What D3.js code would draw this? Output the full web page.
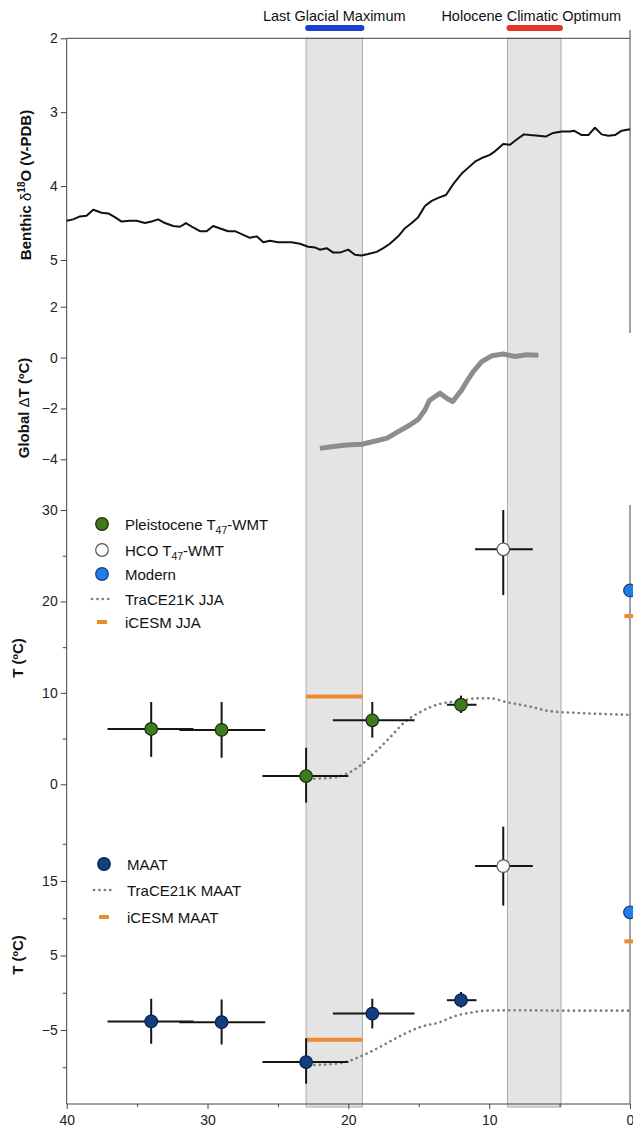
<!DOCTYPE html>
<html>
<head>
<meta charset="utf-8">
<script src="https://cdn.jsdelivr.net/npm/d3@7"></script>
<style>
body { margin: 0; background: #fff; }
svg { display: block; font-family: "Liberation Sans", Arial, Helvetica, sans-serif; }
.axis text { font-size: 14px; fill: #222; font-family: "Liberation Sans", Arial, sans-serif; }
.axis line { stroke: #444; }
.axis path { display: none; }
.legend text { font-size: 15px; fill: #111; }
.ytitle { font-size: 15px; font-weight: bold; fill: #111; }
</style>
</head>
<body>
<svg id="chart" width="633" height="1129"></svg>
<script>
// ages are ka BP
var benthicAge = [40.0, 39.54, 39.06, 38.59, 38.12, 37.52, 37.05, 36.58, 36.10, 35.51, 35.04, 34.45, 33.97, 33.50, 33.03,
    32.44, 31.96, 31.53, 31.02, 30.54, 30.06, 29.60, 29.00, 28.53, 28.05, 27.46, 26.99, 26.51, 26.04, 25.57, 24.98,
    24.03, 23.44, 22.85, 22.37, 22.02, 21.54, 21.07, 20.60, 20.01, 19.53, 19.06, 18.59, 17.99, 17.52, 17.05, 16.46,
    15.98, 15.50, 15.04, 14.56, 14.08, 13.62, 13.07, 12.50, 11.95, 11.48, 11.01, 10.53, 9.99, 9.59, 9.00, 8.52, 8.05,
    7.53, 7.10, 6.51, 5.99, 5.45, 4.85, 4.26, 3.98, 3.43, 2.96, 2.49, 2.01, 1.54, 1.07, 0.59, 0.0];
var benthicD18O = [4.47, 4.45, 4.41, 4.40, 4.32, 4.36, 4.37, 4.42, 4.48, 4.47, 4.47, 4.50, 4.48, 4.45, 4.50,
    4.54, 4.55, 4.50, 4.56, 4.61, 4.61, 4.54, 4.58, 4.61, 4.61, 4.66, 4.70, 4.68, 4.76, 4.74, 4.76,
    4.76, 4.78, 4.82, 4.83, 4.86, 4.84, 4.90, 4.90, 4.86, 4.93, 4.94, 4.92, 4.89, 4.84, 4.78, 4.68,
    4.57, 4.50, 4.42, 4.27, 4.20, 4.16, 4.12, 3.96, 3.83, 3.75, 3.67, 3.62, 3.58, 3.53, 3.43, 3.44, 3.37,
    3.30, 3.31, 3.32, 3.33, 3.28, 3.26, 3.26, 3.25, 3.31, 3.31, 3.21, 3.30, 3.32, 3.31, 3.25, 3.23];

var globalAge = [22.02, 21.07, 20.12, 19.06, 17.99, 17.24, 16.46, 15.63, 15.04, 14.56, 14.25, 13.49, 13.02, 12.59,
    11.95, 11.60, 11.13, 10.53, 9.82, 9.00, 8.17, 7.34, 6.51];
var globalDT = [-3.57, -3.50, -3.44, -3.41, -3.27, -3.17, -2.91, -2.65, -2.43, -2.06, -1.69, -1.40, -1.60, -1.73,
    -1.27, -0.95, -0.55, -0.16, 0.07, 0.14, 0.04, 0.11, 0.09];

var bandNames = ["Last Glacial Maximum", "Holocene Climatic Optimum"];
var bandStart = [23, 8.7];
var bandEnd = [19, 4.9];

// clumped isotope points: age, T, age range, T range
var wmtPleistocene = [
    {age: 34.0, t: 6.05, a0: 37.1, a1: 31.0, t0: 3.0, t1: 9.0},
    {age: 29.0, t: 5.95, a0: 32.0, a1: 25.9, t0: 2.9, t1: 9.0},
    {age: 23.0, t: 0.9, a0: 26.1, a1: 20.0, t0: -2.0, t1: 4.0},
    {age: 18.3, t: 7.0, a0: 21.1, a1: 15.3, t0: 5.1, t1: 9.0},
    {age: 12.0, t: 8.7, a0: 13.0, a1: 10.9, t0: 7.8, t1: 9.7}
];
var wmtHCO = [{age: 9.0, t: 25.7, a0: 11.0, a1: 6.9, t0: 20.7, t1: 30.0}];
var wmtModern = [{age: 0, t: 21.2}];
var iCESMjja = [{a0: 23, a1: 19, t: 9.6}, {a0: 0.4, a1: -0.4, t: 18.4}];
var traceJjaAge = [22.8, 21.3, 20.2, 19.2, 18.1, 17.0, 16.0, 14.9, 13.5, 12.1, 10.9, 9.9, 8.8, 7.1, 5.7, 3.6, 0];
var traceJjaT = [0.6, 0.7, 1.1, 2.0, 3.5, 5.2, 6.8, 7.9, 8.8, 9.1, 9.4, 9.4, 9.0, 8.5, 8.0, 7.8, 7.6];

var maatPleistocene = [
    {age: 34.0, t: -3.85, a0: 37.1, a1: 31.0, t0: -6.85, t1: -0.8},
    {age: 29.0, t: -3.95, a0: 32.0, a1: 25.9, t0: -6.95, t1: -0.9},
    {age: 23.0, t: -9.3, a0: 26.1, a1: 20.0, t0: -12.2, t1: -6.1},
    {age: 18.3, t: -2.8, a0: 21.1, a1: 15.3, t0: -4.8, t1: -0.8},
    {age: 12.0, t: -1.0, a0: 13.0, a1: 10.9, t0: -2.0, t1: 0.1}
];
var maatHCO = [{age: 9.0, t: 17.0, a0: 11.0, a1: 6.9, t0: 11.7, t1: 22.3}];
var maatModern = [{age: 0, t: 10.8}];
var iCESMmaat = [{a0: 23, a1: 19, t: -6.3}, {a0: 0.4, a1: -0.4, t: 6.9}];
var traceMaatAge = [22.8, 21.3, 20.2, 19.2, 18.1, 17.0, 16.0, 14.9, 13.5, 12.3, 11.4, 10.2, 7.9, 5.0, 2.1, 0];
var traceMaatT = [-9.7, -9.6, -9.3, -8.6, -7.6, -6.5, -5.5, -4.6, -3.95, -3.05, -2.7, -2.4, -2.35, -2.4, -2.4, -2.4];

var svg = d3.select("#chart");

var x = d3.scaleLinear().domain([40, 0]).range([66.7, 630]);
var yBen = d3.scaleLinear().domain([2, 5]).range([38.3, 260]);
var yGlob = d3.scaleLinear().domain([2, -4]).range([306.7, 459.3]);
var yJja = d3.scaleLinear().domain([30, 0]).range([510, 784.3]);
var yMaat = d3.scaleLinear().domain([15, -5]).range([881, 1030]);
var bottom = 1104;

// shaded intervals
var bands = bandNames.map(function(n, i) { return {name: n, start: bandStart[i], end: bandEnd[i]}; });
var bandColours = ["#1f3fd2", "#e6342b"];

svg.selectAll("rect.band")
    .data(bands)
    .enter().append("rect")
    .attr("class", "band")
    .attr("x", function(d) { return x(d.start); })
    .attr("width", function(d) { return x(d.end) - x(d.start); })
    .attr("y", 38.3)
    .attr("height", bottom + 3 - 38.3)
    .attr("fill", "#e4e4e4")
    .attr("stroke", "#ababab")
    .attr("stroke-width", 1);

svg.selectAll("line.bandbar")
    .data(bands)
    .enter().append("line")
    .attr("x1", function(d) { return x(d.start) + 2; })
    .attr("x2", function(d) { return x(d.end) - 1; })
    .attr("y1", 28).attr("y2", 28)
    .attr("stroke", function(d, i) { return bandColours[i]; })
    .attr("stroke-width", 6)
    .attr("stroke-linecap", "round");

svg.selectAll("text.bandlabel")
    .data(bands)
    .enter().append("text")
    .attr("x", function(d, i) { return (x(d.start) + x(d.end)) / 2 - (i == 1 ? 3 : 0); })
    .attr("y", 21)
    .attr("text-anchor", "middle")
    .style("font-size", "14.5px")
    .style("fill", "#111")
    .text(function(d) { return d.name; });

// axes frame
svg.append("line").attr("x1", 66.7).attr("x2", 66.7).attr("y1", 38.3).attr("y2", bottom).attr("stroke", "#444");
svg.append("line").attr("x1", 66.7).attr("x2", 630).attr("y1", 38.3).attr("y2", 38.3).attr("stroke", "#444");
svg.append("line").attr("x1", 630).attr("x2", 630).attr("y1", 30).attr("y2", 333).attr("stroke", "#444");
svg.append("line").attr("x1", 630).attr("x2", 630).attr("y1", 505).attr("y2", bottom).attr("stroke", "#444");
svg.append("line").attr("x1", 66.7).attr("x2", 630).attr("y1", bottom).attr("y2", bottom).attr("stroke", "#444");

function leftAxis(scale, major, minor, fmt) {
    var g = svg.append("g").attr("class", "axis").attr("transform", "translate(66.7,0)");
    g.call(d3.axisLeft(scale).tickValues(major).tickSize(6).tickPadding(3).tickFormat(fmt || d3.format("d")));
    if (minor) {
        svg.append("g").attr("class", "axis").attr("transform", "translate(66.7,0)")
            .call(d3.axisLeft(scale).tickValues(minor).tickSize(4).tickFormat(""));
    }
}
leftAxis(yBen, [2, 3, 4, 5]);
leftAxis(yGlob, [2, 0, -2, -4]);
leftAxis(yJja, [30, 20, 10, 0], [25, 15, 5]);
leftAxis(yMaat, [15, 5, -5], [20, 10, 0, -10]);

svg.append("g").attr("class", "axis").attr("transform", "translate(0," + bottom + ")")
    .call(d3.axisBottom(x).tickValues([40, 30, 20, 10, 0]).tickSize(5).tickPadding(6).tickFormat(d3.format("d")));
svg.append("g").attr("class", "axis").attr("transform", "translate(0," + bottom + ")")
    .call(d3.axisBottom(x).tickValues([35, 25, 15, 5]).tickSize(3).tickFormat(""));

// y titles
function yTitle(cx, cy, parts) {
    var t = svg.append("text").attr("class", "ytitle")
        .attr("transform", "translate(" + cx + "," + cy + ") rotate(-90)")
        .attr("text-anchor", "middle");
    parts.forEach(function(p) {
        var s = t.append("tspan").text(p.t);
        if (p.sup) s.attr("dy", -6).style("font-size", "10px");
        if (p.back) s.attr("dy", 6);
        if (p.normal) s.style("font-weight", "normal");
    });
}
yTitle(31, 185, [{t: "Benthic  "}, {t: "δ", normal: true}, {t: "18", sup: true}, {t: "O (V-PDB)", back: true}]);
yTitle(29, 408, [{t: "Global "}, {t: "Δ", normal: true}, {t: "T (ºC)"}]);
yTitle(23, 658, [{t: "T (ºC)"}]);
yTitle(23, 955, [{t: "T (ºC)"}]);

// benthic d18O
var benthic = benthicAge.map(function(a, i) { return [a, benthicD18O[i]]; });
svg.append("path")
    .datum(benthic)
    .attr("fill", "none")
    .attr("stroke", "#111")
    .attr("stroke-width", 2)
    .attr("stroke-linejoin", "round")
    .attr("d", d3.line().x(function(d) { return x(d[0]); }).y(function(d) { return yBen(d[1]); }));

// global temperature stack
var globalT = globalAge.map(function(a, i) { return [a, globalDT[i]]; });
svg.append("path")
    .datum(globalT)
    .attr("fill", "none")
    .attr("stroke", "#8d8d8d")
    .attr("stroke-width", 5)
    .attr("stroke-linejoin", "round")
    .attr("d", d3.line().x(function(d) { return x(d[0]); }).y(function(d) { return yGlob(d[1]); }));

function drawTrace(ages, temps, y) {
    var pts = ages.map(function(a, i) { return [a, temps[i]]; });
    svg.append("path")
        .datum(pts)
        .attr("fill", "none")
        .attr("stroke", "#7a7a7a")
        .attr("stroke-width", 2.6)
        .attr("stroke-linecap", "round")
        .attr("stroke-dasharray", "0.1 5.3")
        .attr("d", d3.line().curve(d3.curveMonotoneX).x(function(d) { return x(d[0]); }).y(function(d) { return y(d[1]); }));
}

function drawModel(data, y) {
    svg.selectAll(null)
        .data(data)
        .enter().append("line")
        .attr("x1", function(d) { return x(d.a0); })
        .attr("x2", function(d) { return x(d.a1); })
        .attr("y1", function(d) { return y(d.t); })
        .attr("y2", function(d) { return y(d.t); })
        .attr("stroke", "#ee8a2e")
        .attr("stroke-width", 4);
}

function drawPoints(data, y, fill, stroke) {
    var g = svg.append("g");
    var e = g.selectAll("g").data(data).enter().append("g");
    e.filter(function(d) { return d.a0 != null; }).append("line")
        .attr("x1", function(d) { return x(d.a0); })
        .attr("x2", function(d) { return x(d.a1); })
        .attr("y1", function(d) { return y(d.t); })
        .attr("y2", function(d) { return y(d.t); })
        .attr("stroke", "#151515").attr("stroke-width", 2);
    e.filter(function(d) { return d.t0 != null; }).append("line")
        .attr("x1", function(d) { return x(d.age); })
        .attr("x2", function(d) { return x(d.age); })
        .attr("y1", function(d) { return y(d.t0); })
        .attr("y2", function(d) { return y(d.t1); })
        .attr("stroke", "#151515").attr("stroke-width", 2);
    e.append("circle")
        .attr("cx", function(d) { return x(d.age); })
        .attr("cy", function(d) { return y(d.t); })
        .attr("r", 6.3)
        .attr("fill", fill)
        .attr("stroke", stroke)
        .attr("stroke-width", 1.2);
}

drawTrace(traceJjaAge, traceJjaT, yJja);
drawModel(iCESMjja, yJja);
drawPoints(wmtPleistocene, yJja, "#3e7b1d", "#1c2b10");
drawPoints(wmtHCO, yJja, "#ffffff", "#555");
drawPoints(wmtModern, yJja, "#1f7ce8", "#1b3f7a");

drawTrace(traceMaatAge, traceMaatT, yMaat);
drawModel(iCESMmaat, yMaat);
drawPoints(maatPleistocene, yMaat, "#123f82", "#0b1f40");
drawPoints(maatHCO, yMaat, "#ffffff", "#555");
drawPoints(maatModern, yMaat, "#1f7ce8", "#1b3f7a");

// legends
function legend(x0, rows) {
    var g = svg.append("g").attr("class", "legend");
    rows.forEach(function(r) {
        if (r.type == "circle") {
            g.append("circle").attr("cx", x0).attr("cy", r.y).attr("r", 6.3)
                .attr("fill", r.fill).attr("stroke", r.stroke).attr("stroke-width", 1.2);
        } else if (r.type == "dots") {
            g.append("line").attr("x1", x0 - 10).attr("x2", x0 + 10).attr("y1", r.y).attr("y2", r.y)
                .attr("stroke", "#7a7a7a").attr("stroke-width", 2.6).attr("stroke-linecap", "round")
                .attr("stroke-dasharray", "0.1 5.3");
        } else {
            g.append("line").attr("x1", x0 - 5).attr("x2", x0 + 5).attr("y1", r.y).attr("y2", r.y)
                .attr("stroke", "#ee8a2e").attr("stroke-width", 4);
        }
        var t = g.append("text").attr("x", x0 + 23).attr("y", r.y + 5.5);
        if (r.sub) {
            t.append("tspan").text(r.label);
            t.append("tspan").attr("dy", 4).style("font-size", "10.5px").text(r.sub);
            t.append("tspan").attr("dy", -4).text(r.after);
        } else {
            t.text(r.label);
        }
    });
}
legend(102, [
    {type: "circle", y: 524, fill: "#3e7b1d", stroke: "#1c2b10", label: "Pleistocene T", sub: "47", after: "-WMT"},
    {type: "circle", y: 550, fill: "#ffffff", stroke: "#555", label: "HCO T", sub: "47", after: "-WMT"},
    {type: "circle", y: 574, fill: "#1f7ce8", stroke: "#1b3f7a", label: "Modern"},
    {type: "dots", y: 599, label: "TraCE21K JJA"},
    {type: "dash", y: 622, label: "iCESM JJA"}
]);
legend(104, [
    {type: "circle", y: 864, fill: "#123f82", stroke: "#0b1f40", label: "MAAT"},
    {type: "dots", y: 890, label: "TraCE21K MAAT"},
    {type: "dash", y: 917, label: "iCESM MAAT"}
]);
</script>
</body>
</html>
